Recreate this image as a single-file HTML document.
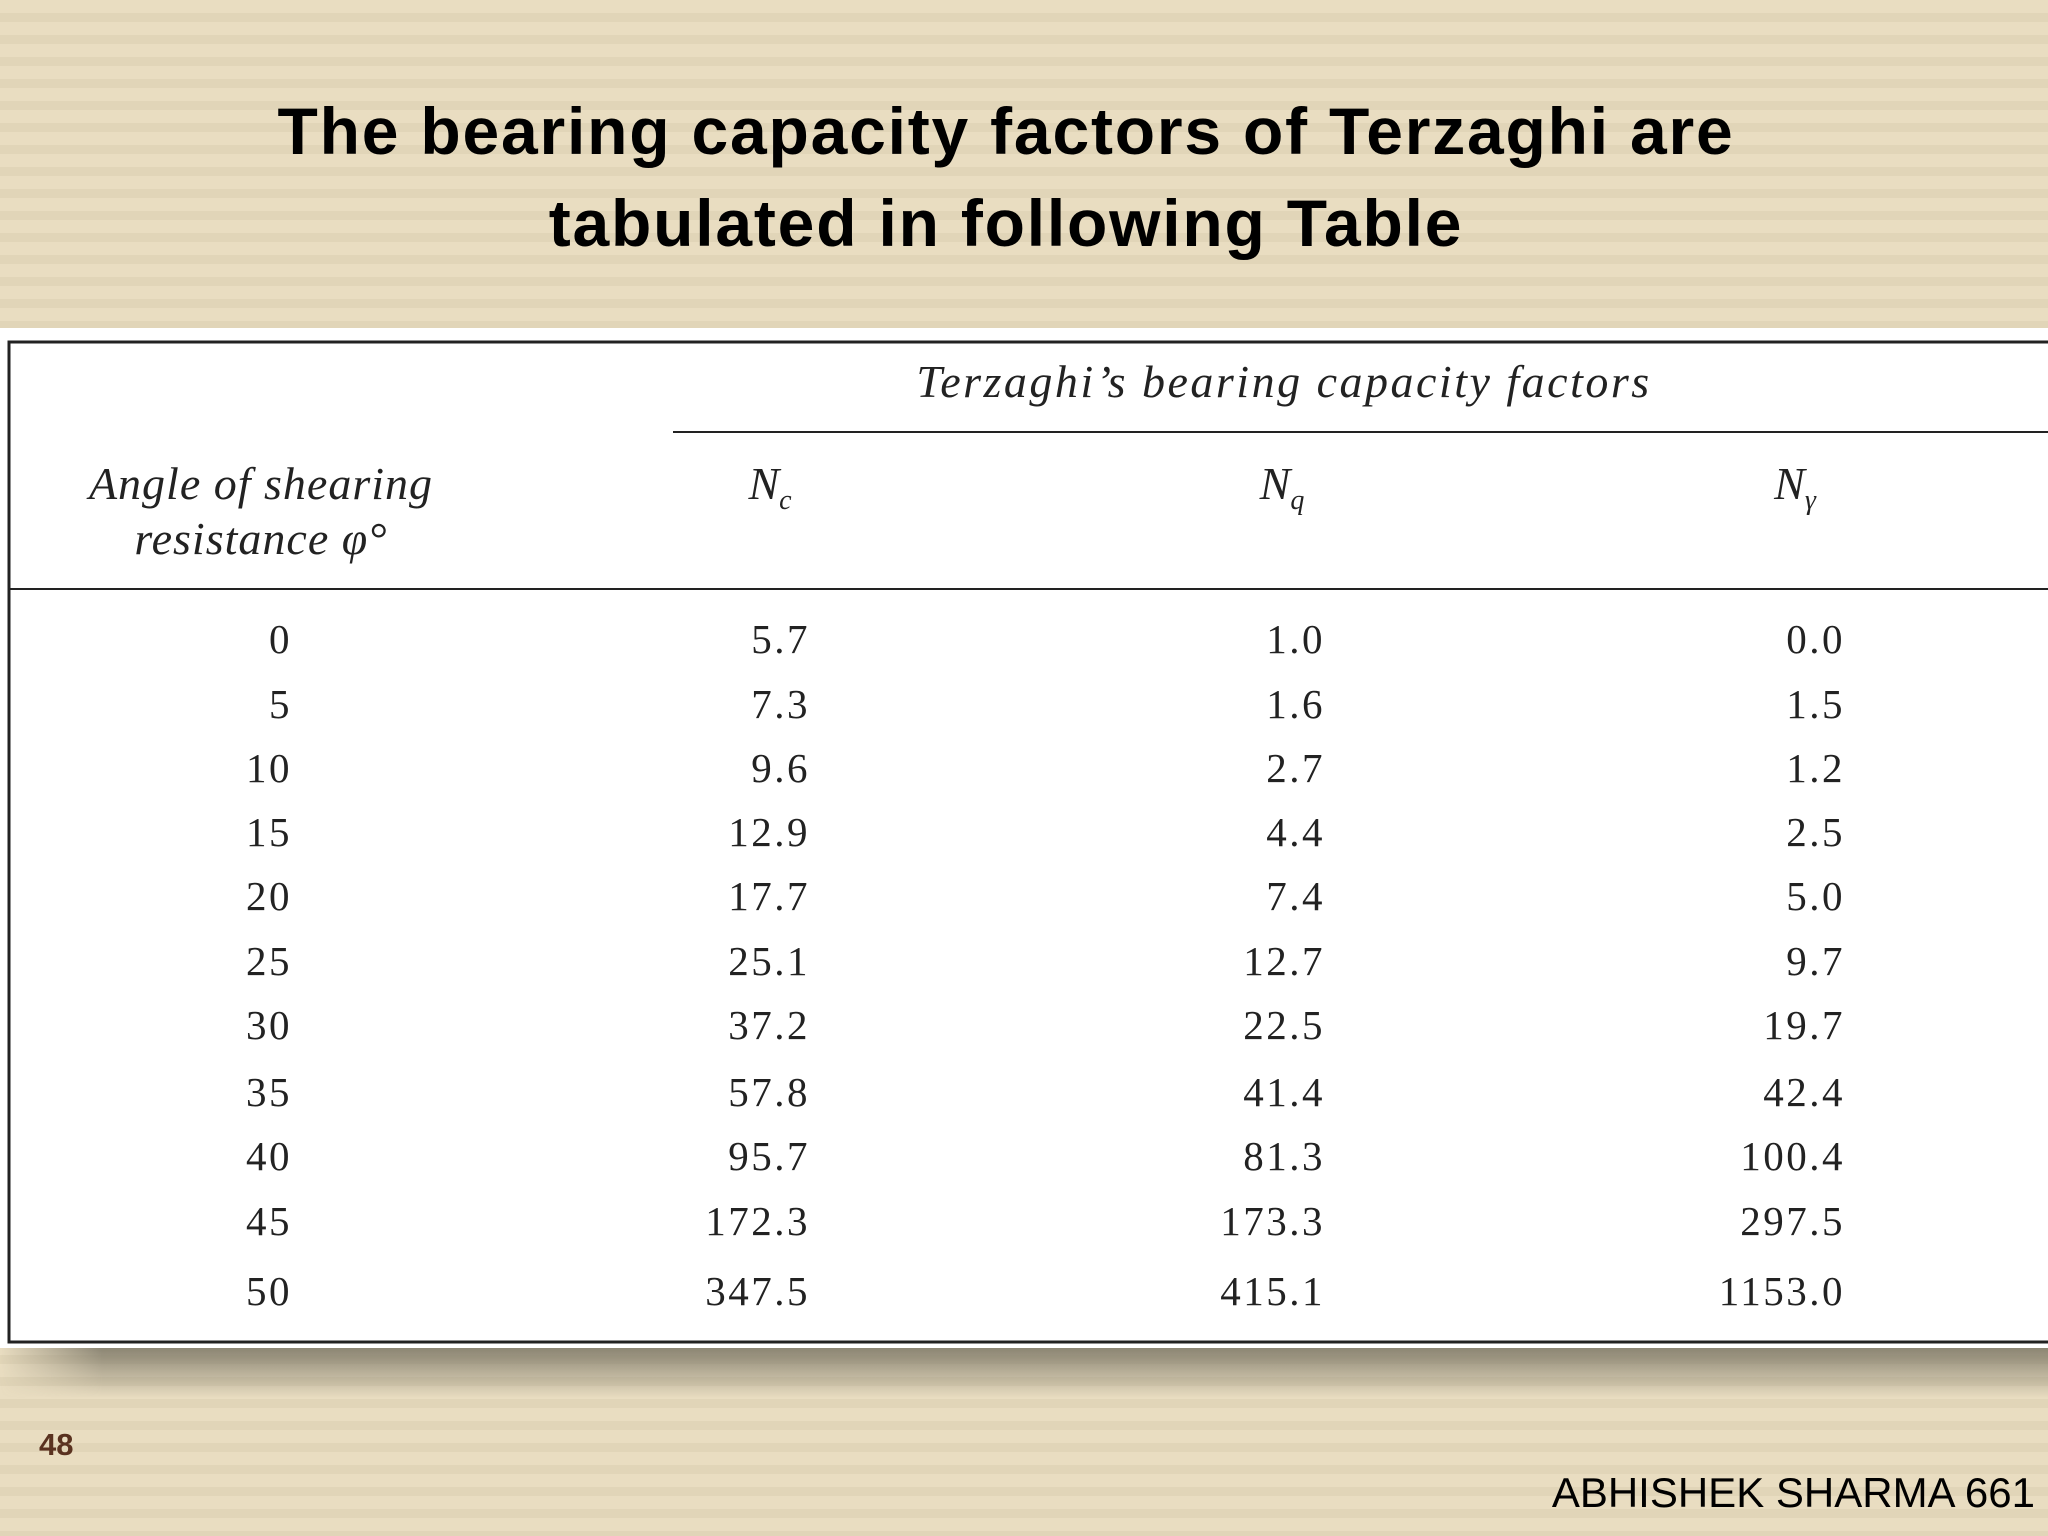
<!DOCTYPE html>
<html><head><meta charset="utf-8"><style>
html,body{margin:0;padding:0;width:2048px;height:1536px;overflow:hidden}
body{background:repeating-linear-gradient(to bottom,#e9ddc1 0px,#e9ddc1 13px,#e1d5b8 13px,#e1d5b8 22px)}
</style></head><body>
<svg width="2048" height="1536" xmlns="http://www.w3.org/2000/svg" style="position:absolute;left:0;top:0">
<defs><linearGradient id="sh" x1="0" y1="0" x2="0" y2="1"><stop offset="0" stop-color="#7a7565" stop-opacity="0.85"/><stop offset="1" stop-color="#7a7565" stop-opacity="0"/></linearGradient>
<linearGradient id="shx" x1="0" y1="0" x2="1" y2="0"><stop offset="0" stop-color="#fff" stop-opacity="0"/><stop offset="0.05" stop-color="#fff" stop-opacity="1"/></linearGradient>
<mask id="m"><rect x="0" y="1348" width="2048" height="50" fill="url(#shx)"/></mask></defs>
<rect x="0" y="1348" width="2048" height="50" fill="url(#sh)" mask="url(#m)"/>
<rect x="0" y="328" width="2048" height="1020" fill="#fff"/>
<rect x="9" y="342" width="2060" height="1000" fill="none" stroke="#222" stroke-width="3"/>
<g font-family="Liberation Sans, sans-serif" font-weight="bold" font-size="66" letter-spacing="1.8" fill="#000" text-anchor="middle">
<text x="1006" y="154">The bearing capacity factors of Terzaghi are</text>
<text x="1006" y="246">tabulated in following Table</text>
</g>
<g font-family="Liberation Serif, serif" font-style="italic" font-size="46" fill="#222" text-anchor="middle">
<text x="1284" y="397" letter-spacing="2.5">Terzaghi’s bearing capacity factors</text>
<text x="261" y="499" letter-spacing="1">Angle of shearing</text>
<text x="261" y="554" letter-spacing="1">resistance φ°</text>
<text x="770" y="499">N<tspan font-size="28" dy="10">c</tspan></text>
<text x="1282" y="499">N<tspan font-size="28" dy="10">q</tspan></text>
<text x="1795" y="499">N<tspan font-size="28" dy="10">γ</tspan></text>
</g>
<line x1="673" y1="432" x2="2048" y2="432" stroke="#222" stroke-width="2"/>
<line x1="9" y1="589" x2="2048" y2="589" stroke="#222" stroke-width="2"/>
<g id="rows" font-family="Liberation Serif, serif" font-size="41" letter-spacing="2.5" fill="#222" text-anchor="end"></g>
<text x="39" y="1455" font-family="Liberation Sans, sans-serif" font-weight="bold" font-size="31" fill="#5a3220">48</text>
<text x="2035" y="1507" font-family="Liberation Sans, sans-serif" font-size="42" fill="#000" text-anchor="end">ABHISHEK SHARMA 661</text>
</svg>
<script>
const angles=["0","5","10","15","20","25","30","35","40","45","50"];
const nc=["5.7","7.3","9.6","12.9","17.7","25.1","37.2","57.8","95.7","172.3","347.5"];
const nq=["1.0","1.6","2.7","4.4","7.4","12.7","22.5","41.4","81.3","173.3","415.1"];
const ng=["0.0","1.5","1.2","2.5","5.0","9.7","19.7","42.4","100.4","297.5","1153.0"];
const rowY=[653,718,782,846,910,975,1039,1106,1170,1235,1305];
const colX=[292,810,1325,1845];
const g=document.getElementById('rows');
const cols=[angles,nc,nq,ng];
const names=['angle','nc','nq','ngamma'];
for(let i=0;i<angles.length;i++){
  for(let c=0;c<4;c++){
    const t=document.createElementNS('http://www.w3.org/2000/svg','text');
    t.setAttribute('x',colX[c]);t.setAttribute('y',rowY[i]);
    t.textContent=cols[c][i];
    
    
    g.appendChild(t);
  }
}
</script>
</body></html>
